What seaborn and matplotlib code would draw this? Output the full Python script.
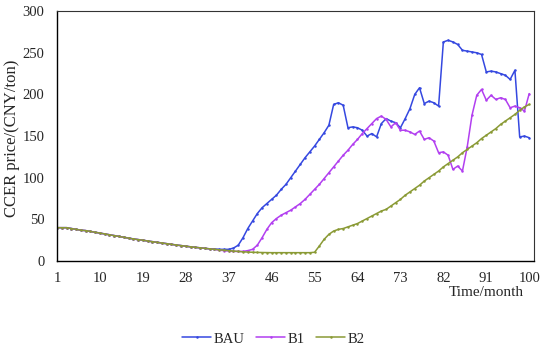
import numpy as np
import pandas as pd
import matplotlib
matplotlib.use("Agg")
import matplotlib.pyplot as plt
import seaborn as sns

# months 1..100
months = list(range(1, 101))

# shared path, months 1-33
base = [40, 40, 40, 39, 38, 37, 36.5, 35.5, 34.5, 33.5,
        32.5, 31.5, 30.5, 29.5, 28.5, 27.5, 26.5, 25.7, 25, 24,
        23.2, 22.4, 21.6, 20.8, 20, 19.2, 18.5, 17.8, 17, 16.4,
        15.8, 15.2, 14.6]

# months 34-100
bau_tail = [14.5, 14, 14, 14, 15.5, 19, 28, 39, 48, 57,
            64, 69, 74, 79, 86, 92, 100, 108, 116, 124,
            131, 138, 146, 154, 163, 188, 190, 187, 160, 161,
            160, 157, 150, 153, 149, 165, 171, 168, 166, 160,
            171, 183, 200, 208, 189, 192, 190, 186, 263, 265,
            263, 260, 253, 252, 251, 250, 248, 227, 228, 227,
            225, 223, 218, 229, 149, 150, 148]

b1_tail = [14, 13, 12.5, 12, 11.5, 11.5, 11.5, 12.5, 14, 19,
           28, 38, 46, 51, 55, 58, 61, 65, 69, 74,
           80, 86, 92, 99, 106, 113, 120, 127, 133, 140,
           146, 153, 159, 165, 171, 174, 170, 161, 166, 157,
           157, 155, 152, 156, 146, 148, 144, 130, 131, 127,
           110, 114, 108, 137, 175, 199, 206, 193, 199, 194,
           196, 194, 184, 186, 184, 180, 201]

b2_tail = [14, 13.5, 13, 12.5, 12, 11.5, 11, 10.7, 10.5, 10.3,
           10.2, 10.1, 10, 10, 10, 10, 10, 10, 10, 10,
           10, 10.5, 18, 26, 32, 36, 38, 39, 41, 43,
           45, 48, 51, 54, 57, 60, 62, 66, 70, 74,
           79, 83, 87, 91, 96, 100, 104, 108, 113, 117,
           121, 125, 130, 134, 138, 142, 147, 151, 155, 159,
           164, 168, 172, 176, 181, 185, 188]

series_names = ["BAU", "B1", "B2"]
colors = ["#3548e0", "#b23ff0", "#8a9a35"]

df = pd.DataFrame({
    "month": months * 3,
    "price": base + bau_tail + base + b1_tail + base + b2_tail,
    "scenario": sum([[n] * 100 for n in series_names], []),
})

sns.set_theme(style="white")
plt.rcParams["font.family"] = ["Liberation Serif", "DejaVu Serif"]

fig = plt.figure(figsize=(5.5, 3.48), dpi=100)
ax = fig.add_axes([0.1036, 0.25, 0.8673, 0.718])

sns.lineplot(data=df, x="month", y="price", hue="scenario",
             hue_order=series_names, palette=colors,
             marker="o", markersize=1.8, markeredgewidth=0,
             linewidth=1.1, ax=ax)

ax.set_xlim(1, 101)
ax.set_ylim(0, 300)
ax.set_xticks([1, 10, 19, 28, 37, 46, 55, 64, 73, 82, 91, 100])
ax.set_yticks(range(0, 301, 50))
ax.tick_params(axis="x", direction="in", length=3, width=0.8,
               color="black", labelsize=10.5, pad=8)
ax.tick_params(axis="y", length=0, labelsize=10.5, pad=9)

for s in ["left", "bottom"]:
    ax.spines[s].set_color("black")
    ax.spines[s].set_linewidth(1.0)
for s in ["top", "right"]:
    ax.spines[s].set_color("#333333")
    ax.spines[s].set_linewidth(0.8)

ax.set_ylabel("CCER price/(CNY/ton)", fontsize=12)
ax.yaxis.set_label_coords(-0.077, 0.49)
ax.set_xlabel("Time/month", fontsize=11)
ax.xaxis.set_label_coords(0.9, -0.1)

sns.move_legend(ax, "center", bbox_to_anchor=(0.497, 0.026),
                bbox_transform=fig.transFigure, ncol=3, frameon=False,
                title=None, fontsize=10.5, handlelength=2.0,
                columnspacing=0.8, handletextpad=0.15)

fig.savefig("out.png", dpi=100)
